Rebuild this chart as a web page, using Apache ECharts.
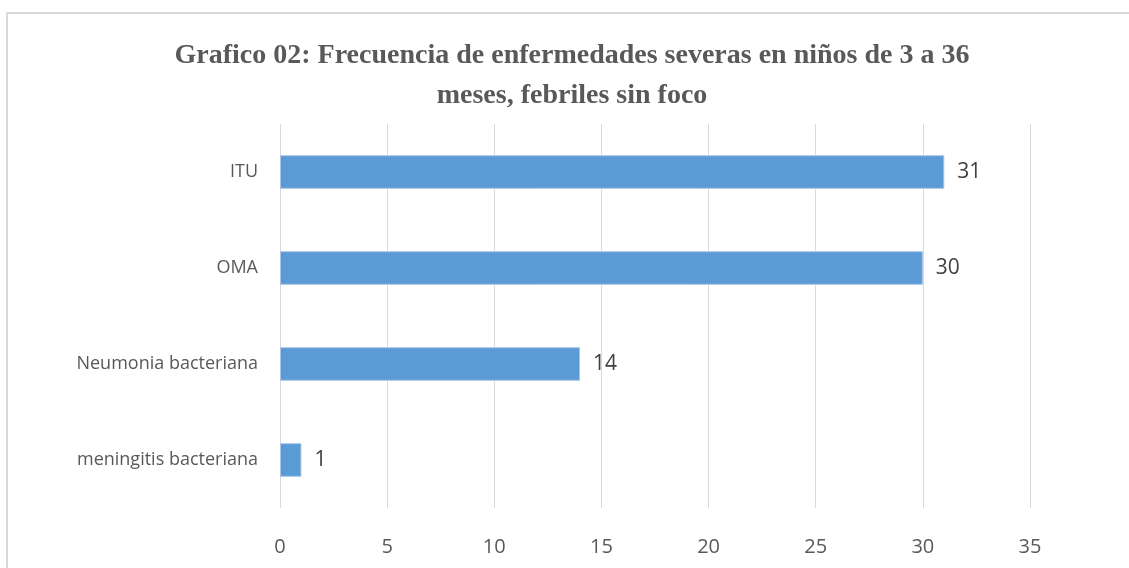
<!DOCTYPE html>
<html>
<head>
<meta charset="utf-8">
<script src="https://cdn.jsdelivr.net/npm/echarts@6/dist/echarts.min.js"></script>
<style>
html,body{margin:0;padding:0;background:#fff;}
#chart{width:1129px;height:568px;}
</style>
</head>
<body>
<div id="chart"></div>
<script>
const titleText = "Grafico 02: Frecuencia de enfermedades severas en niños de 3 a 36\nmeses, febriles sin foco";
const categories = ["meningitis bacteriana", "Neumonia bacteriana", "OMA", "ITU"];
const values = [1, 14, 30, 31];
const xMin = 0, xMax = 35, xStep = 5;

const chart = echarts.init(document.getElementById('chart'));
chart.setOption({
  animation: false,
  backgroundColor: '#fff',
  graphic: [{
    type: 'rect',
    shape: { x: 7, y: 13, width: 1140, height: 600 },
    style: { fill: 'none', stroke: '#d9d9d9', lineWidth: 2 },
    silent: true
  }],
  title: {
    text: titleText,
    left: 567,
    textAlign: 'center',
    top: 31,
    textStyle: {
      fontFamily: 'Liberation Serif',
      fontWeight: 'bold',
      fontSize: 28,
      color: '#595959',
      lineHeight: 40
    }
  },
  grid: { left: 280, right: 99, top: 124, bottom: 60, containLabel: false },
  xAxis: {
    type: 'value',
    min: xMin, max: xMax, interval: xStep,
    axisLine: { show: false },
    axisTick: { show: false },
    splitLine: { show: true, lineStyle: { color: '#d9d9d9', width: 1 } },
    axisLabel: { color: '#595959', fontFamily: 'Open Sans', fontSize: 20, margin: 29 }
  },
  yAxis: {
    type: 'category',
    data: categories,
    axisLine: { show: false },
    axisTick: { show: false },
    axisLabel: { color: '#595959', fontFamily: 'Open Sans', fontSize: 18, margin: 22 }
  },
  series: [{
    type: 'bar',
    data: values,
    barWidth: '35%',
    itemStyle: { color: '#5b9bd5', borderColor: '#a8c5e4', borderWidth: 1 },
    label: {
      show: true, position: 'right', distance: 13,
      color: '#404040', fontFamily: 'Open Sans', fontSize: 21
    }
  }]
});
</script>
</body>
</html>
